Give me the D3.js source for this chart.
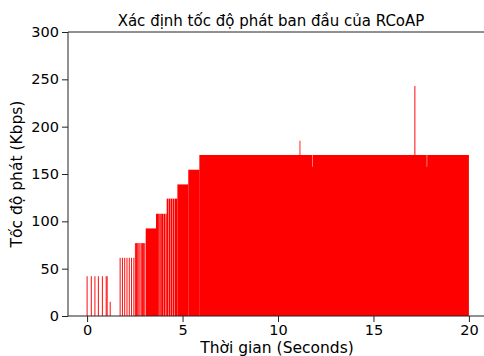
<!DOCTYPE html>
<html>
<head>
<meta charset="utf-8">
<script src="https://cdn.jsdelivr.net/npm/d3@7/dist/d3.min.js"></script>
<style>
  html, body { margin: 0; padding: 0; background: #fff; }
  svg { display: block; font-family: "DejaVu Sans", sans-serif; }
</style>
</head>
<body>
<svg id="chart" width="484" height="356"></svg>
<script>
// Individual packets in the slow-start phase: send time (s) and rate (Kbps)
const packetTimes = [0.00, 0.22, 0.41, 0.59, 0.80, 1.00, 1.05, 1.21,
                     1.73, 1.85, 1.97, 2.09, 2.21, 2.33, 2.45,
                     2.53, 2.59, 2.65, 2.71, 2.77, 2.84, 2.90, 2.96, 3.02];
const packetRates = [42, 42, 42, 42, 42, 42, 42, 15,
                     61.5, 61.5, 61.5, 61.5, 61.5, 61.5, 61.5,
                     77, 77, 77, 77, 77, 77, 77, 77, 77];

// Back-to-back sending spans while the rate still climbs: start, end (s), rate (Kbps)
const spanStart = [3.07, 3.61, 3.78, 3.88, 4.00, 4.13, 4.17, 4.27, 4.39, 4.48, 4.58, 4.73, 5.30];
const spanEnd   = [3.61, 3.76, 3.86, 3.98, 4.11, 4.17, 4.25, 4.37, 4.46, 4.56, 4.73, 5.30, 5.89];
const spanRates = [92.5, 108, 108, 108, 108, 108, 124, 124, 124, 124, 124, 139, 154.5];

// Steady phase as a step series: rate holds from each time until the next
const steadyTimes = [5.88, 11.128, 11.172, 11.79, 11.815, 17.145, 17.195, 17.79, 17.815, 20.00];
const steadyRates = [170, 185, 170, 157.7, 170, 243, 170, 157.7, 170, 170];

const xTicks = [0, 5, 10, 15, 20];
const yTicks = [0, 50, 100, 150, 200, 250, 300];

const titleText = "Xác định tốc độ phát ban đầu của RCoAP";
const xLabel = "Thời gian (Seconds)";
const yLabel = "Tốc độ phát (Kbps)";

const svg = d3.select("#chart");
const m = { left: 68, top: 32, bottom: 316, right: 488 };

const x = d3.scaleLinear().domain([-1, 21]).range([m.left, m.right]);
const y = d3.scaleLinear().domain([0, 300]).range([m.bottom, m.top]);

const barColor = "#ff0000";
const packetWidth = 0.05;

svg.append("defs").append("clipPath").attr("id", "plot")
  .append("rect").attr("x", m.left).attr("y", m.top)
  .attr("width", m.right - m.left).attr("height", m.bottom - m.top);

const plot = svg.append("g").attr("clip-path", "url(#plot)");

plot.append("g").selectAll("rect")
  .data(packetTimes.map((t, i) => ({ t, v: packetRates[i] })))
  .join("rect")
  .attr("x", d => x(d.t - packetWidth / 2))
  .attr("width", d => x(d.t + packetWidth / 2) - x(d.t - packetWidth / 2))
  .attr("y", d => y(d.v))
  .attr("height", d => y(0) - y(d.v))
  .attr("fill", barColor);

plot.append("g").selectAll("rect")
  .data(spanStart.map((s, i) => ({ s, e: spanEnd[i], v: spanRates[i] })))
  .join("rect")
  .attr("x", d => x(d.s))
  .attr("width", d => x(d.e) - x(d.s))
  .attr("y", d => y(d.v))
  .attr("height", d => y(0) - y(d.v))
  .attr("fill", barColor);

const steadyArea = d3.area()
  .curve(d3.curveStepAfter)
  .x(d => x(d.t))
  .y0(y(0))
  .y1(d => y(d.v));

plot.append("path")
  .datum(steadyTimes.map((t, i) => ({ t, v: steadyRates[i] })))
  .attr("d", steadyArea)
  .attr("fill", barColor);

// Axes
const axisColor = "#222";
const xAxis = svg.append("g").attr("transform", `translate(0,${m.bottom})`)
  .call(d3.axisBottom(x).tickValues(xTicks).tickSize(6).tickPadding(3).tickFormat(d3.format("d")));
const yAxis = svg.append("g").attr("transform", `translate(${m.left},0)`)
  .call(d3.axisLeft(y).tickValues(yTicks).tickSize(6).tickPadding(3).tickFormat(d3.format("d")));

[xAxis, yAxis].forEach(g => {
  g.select(".domain").remove();
  g.selectAll(".tick line").attr("stroke", axisColor).attr("stroke-width", 1);
  g.selectAll(".tick text").attr("fill", "#000")
    .style("font-family", "'DejaVu Sans', sans-serif").style("font-size", "14.5px");
});

// Spines: left, top, bottom
svg.append("line").attr("x1", m.left).attr("x2", m.left).attr("y1", m.top).attr("y2", m.bottom)
  .attr("stroke", axisColor).attr("stroke-width", 1);
svg.append("line").attr("x1", m.left).attr("x2", m.right).attr("y1", m.top).attr("y2", m.top)
  .attr("stroke", axisColor).attr("stroke-width", 1);
svg.append("line").attr("x1", m.left).attr("x2", m.right).attr("y1", m.bottom).attr("y2", m.bottom)
  .attr("stroke", axisColor).attr("stroke-width", 1);

svg.append("text").attr("x", 271).attr("y", 25.5).attr("text-anchor", "middle")
  .style("font-size", "15px").text(titleText);
svg.append("text").attr("x", 277).attr("y", 353).attr("text-anchor", "middle")
  .style("font-size", "15.5px").text(xLabel);
svg.append("text").attr("transform", `translate(22,${(m.top + m.bottom) / 2}) rotate(-90)`)
  .attr("text-anchor", "middle").style("font-size", "15.5px").text(yLabel);
</script>
</body>
</html>
